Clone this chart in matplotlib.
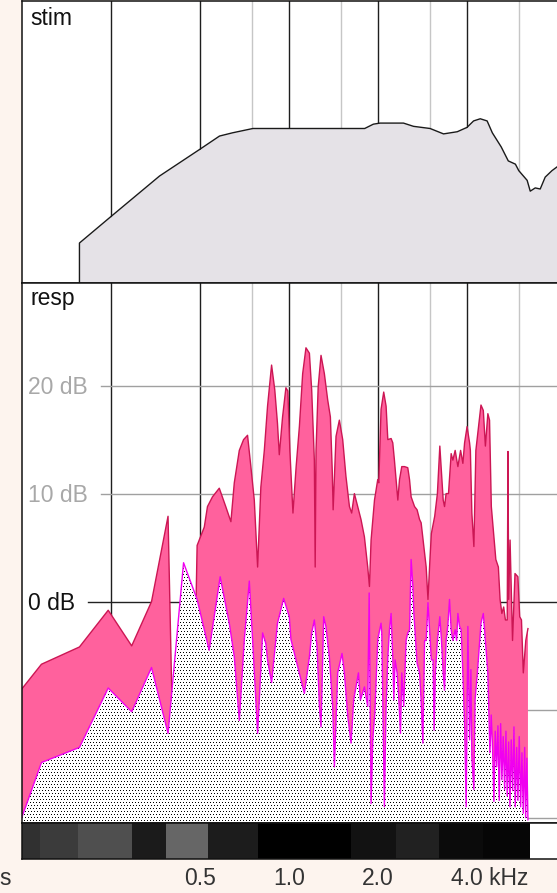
import numpy as np
import matplotlib.pyplot as plt
from matplotlib.transforms import blended_transform_factory

plt.rcParams['font.family'] = ['Liberation Sans', 'DejaVu Sans']

# stimulus spectrum envelope (kHz, dB above panel floor)
stim_khz = [0.195, 0.248, 0.364, 0.5, 0.581, 0.643, 0.754, 1.802, 1.928, 2.031,
            2.438, 2.636, 3.000, 3.332, 3.708, 4.0, 4.211, 4.436, 4.680, 4.874,
            5.222, 5.519, 5.834, 5.989, 6.394, 6.55, 6.81, 7.08, 7.36, 7.76, 8.03, 8.3]
stim_db = [3.7, 6.1, 9.9, 12.4, 13.6, 13.9, 14.3, 14.3, 14.7, 14.8,
           14.8, 14.5, 14.3, 13.8, 14.0, 14.4, 15.0, 15.2, 15.0, 13.9,
           12.6, 11.3, 11.0, 10.4, 9.5, 8.5, 8.8, 8.7, 9.8, 10.4, 10.7, 11.0]

# response spectrum (kHz, dB)
resp_khz = [0.0977, 0.145, 0.195, 0.244, 0.293, 0.342, 0.389, 0.439, 0.488,
            0.516, 0.529, 0.550, 0.580, 0.610, 0.635, 0.652, 0.678, 0.701, 0.723,
            0.742, 0.762, 0.782, 0.802, 0.824, 0.845, 0.872, 0.894, 0.913, 0.926,
            0.950, 0.975, 0.990,
            1.006, 1.030, 1.056, 1.083, 1.111, 1.140, 1.171, 1.192, 1.217, 1.225,
            1.233, 1.254, 1.282, 1.316, 1.350, 1.379, 1.399, 1.409, 1.441, 1.479,
            1.518, 1.557, 1.600, 1.628, 1.663, 1.706, 1.751, 1.798, 1.845, 1.870,
            1.894, 1.945, 1.995,
            2.011, 2.047, 2.090, 2.129, 2.158, 2.214, 2.243, 2.272, 2.302, 2.333,
            2.364, 2.406, 2.457, 2.521, 2.556, 2.588, 2.658, 2.711, 2.764, 2.798,
            2.874, 2.910, 2.951, 2.993, 3.030, 3.110, 3.176, 3.237, 3.279, 3.323,
            3.358, 3.399, 3.463, 3.536, 3.583, 3.648, 3.726, 3.806, 3.874, 3.926,
            4.003,
            4.082, 4.107, 4.155, 4.221, 4.287, 4.400, 4.461, 4.543, 4.617, 4.707,
            4.769, 4.836, 4.903, 5.009, 5.109, 5.177, 5.250, 5.325, 5.397, 5.474,
            5.506, 5.537, 5.597, 5.705, 5.816, 5.949, 6.034, 6.117, 6.205, 6.327,
            6.434]
resp_db = [-11.7, -5.8, -4.2, -0.8, -4.1, 0.0, 7.9, -60, 5.2,
           6.9, 8.8, 9.7, 10.5, 8.8, 7.4, 11.0, 14.0, 15.0, 15.4,
           12.5, 9.4, 3.2, 10.6, 14.0, 18.1, 21.9, 19.6, 16.5, 13.6,
           17.1, 19.8, 19.5,
           13.9, 8.2, 12.5, 16.2, 21.1, 23.5, 23.0, 19.6, 13.1, 3.2,
           14.0, 19.9, 22.8, 21.1, 18.7, 17.1, 12.2, 8.5, 15.3, 16.8,
           15.0, 11.6, 8.8, 8.2, 10.0, 8.8, 7.6, 6.0, 3.2, 1.4,
           5.7, 9.4, 11.3,
           11.0, 17.8, 19.4, 18.1, 15.0, 15.1, 14.7, 13.1, 11.3, 9.4,
           11.3, 12.5, 12.5, 12.4, 11.3, 9.7, 8.8, 8.5, 7.6, 7.3,
           4.5, 3.2, 0.2, 3.6, 6.3, 7.9, 10.0, 14.4, 11.9, 9.4,
           8.8, 10.0, 10.0, 13.7, 13.1, 14.0, 12.5, 14.0, 12.8, 14.7,
           16.2,
           14.7, 14.0, 8.2, 5.1, 14.0, 16.8, 18.2, 17.7, 14.4, 17.4,
           16.8, 8.8, 6.9, 3.9, 3.2, 0.2, -1.1, -0.5, -1.7, -1.7,
           13.9, 0.2, 5.7, -3.6, 2.6, 2.3, -1.4, -1.7, -6.6, -3.6,
           -2.5]

# masked floor drawn stippled under the response (kHz, dB)
floor_khz = [0.0977, 0.145, 0.195, 0.244, 0.293, 0.342, 0.389, 0.439, 0.488,
             0.536, 0.584, 0.627, 0.652, 0.678, 0.705, 0.733, 0.752, 0.782, 0.813,
             0.834, 0.845, 0.872, 0.913, 0.958, 1.001,
             1.014, 1.069, 1.126, 1.171, 1.192, 1.217, 1.243, 1.266, 1.282, 1.309,
             1.332, 1.368, 1.404, 1.423, 1.460, 1.510, 1.538, 1.579, 1.620, 1.654,
             1.716, 1.743, 1.798, 1.845, 1.866, 1.894, 1.919, 1.950, 1.995,
             2.047, 2.059, 2.075, 2.101, 2.129, 2.158, 2.186, 2.214, 2.243, 2.261,
             2.284, 2.320, 2.346, 2.382, 2.406, 2.443, 2.488, 2.521, 2.556, 2.588,
             2.624, 2.644, 2.711, 2.764, 2.798, 2.836, 2.874, 2.910, 2.951, 2.993,
             3.030, 3.071, 3.096, 3.126, 3.176, 3.237, 3.279, 3.323, 3.358, 3.399,
             3.443, 3.491, 3.536, 3.583, 3.648, 3.689, 3.726, 3.776, 3.823, 3.874,
             3.926, 3.975, 4.028,
             4.082, 4.124, 4.155, 4.221, 4.260, 4.345, 4.461, 4.543, 4.617, 4.707,
             4.783, 4.832, 4.885, 4.934, 4.985, 5.040, 5.091, 5.143, 5.200, 5.252,
             5.306, 5.364, 5.419, 5.474, 5.535, 5.591, 5.648, 5.710, 5.769, 5.827,
             5.891, 5.951, 6.012, 6.078, 6.140, 6.203, 6.271, 6.320, 6.380, 6.434]
floor_db = [-28, -14.9, -13.5, -8.0, -10.2, -6.1, -12.2, 3.6, 0.2,
            -4.5, 2.3, -2.0, -5.1, -11.0, -3.5, 1.9, -3.5, -12.2, -2.9,
            -3.9, -5.4, -7.5, -2.0, 0.3, -1.4,
            -3.5, -6.0, -8.5, -5.1, -2.9, -1.7, -4.2, -9.7, -11.6, -1.4,
            -2.3, -5.1, -9.7, -15.3, -6.6, -4.8, -6.6, -10.6, -13.1, -9.1,
            -6.6, -9.1, -7.9, -9.7, 0.8, -18.7, -12.8, -10.3, -3.5,
            -2.0, -2.9, -9.1, -19.0, -9.7, -5.1, -2.6, -1.1, -5.1, -9.1,
            -5.4, -6.6, -8.5, -12.2, -6.6, -9.7, -3.6, -2.9, -2.6, 3.9,
            1.4, -1.1, -5.7, -6.6, -9.1, -13.1, -3.6, -3.6, -0.1, -2.9,
            -5.4, -5.4, -11.9, -6.6, -3.6, -1.4, -3.6, -6.6, -8.2, -3.6,
            -2.3, 0.2, -2.6, -3.6, -2.6, -3.6, -1.1, -2.3, -2.6, -6.6,
            -11.3, -19.0, -2.3,
            -12.8, -6.3, -14.4, -17.4, -9.1, -6.3, -2.0, -1.1, -3.6, -6.6,
            -14.0, -10.5, -13.7, -18.5, -12.0, -15.3, -11.5, -18.4, -11.3, -16.5,
            -12.5, -17.4, -12.0, -18.0, -13.0, -19.0, -12.8, -17.5, -11.6, -19.0,
            -13.5, -18.4, -12.5, -19.0, -14.0, -19.6, -13.5, -20.0, -14.5, -20.2]

# band level strip under the plot
band_edges_khz = [0.1246, 0.1435, 0.193, 0.293, 0.384, 0.533, 0.782, 1.616,
                  2.296, 3.211, 4.546, 6.54, 8.3]
band_gray = [0.19, 0.23, 0.31, 0.105, 0.40, 0.11, 0.0, 0.07, 0.13, 0.045, 0.025, 1.0]

grid_major_khz = [0.25, 0.5, 1.0, 2.0, 4.0]
grid_minor_khz = [0.75, 1.5, 3.0, 6.0]
freq_label_khz = [0.5, 1.0, 2.0, 4.0]
freq_label_text = ['0.5', '1.0', '2.0', '4.0 kHz']
level_label_db = [20, 10, 0]
level_line_db = [20, 10, 0, -10, -20]

W, H = 557, 893
PAPER = '#fdf4ee'
F_LO, F_HI = 0.1246, 8.26
FS = 16.5


def px_box(left, top, right, bottom):
    return [left / W, 1 - bottom / H, (right - left) / W, (bottom - top) / H]


fig = plt.figure(figsize=(W / 100, H / 100), dpi=100, facecolor=PAPER)
ax_stim = fig.add_axes(px_box(22, 1, 560, 283))
ax_resp = fig.add_axes(px_box(22, 283, 560, 823))
ax_band = fig.add_axes(px_box(22, 823, 560, 859))

for ax in (ax_stim, ax_resp, ax_band):
    ax.set_xscale('log')
    ax.set_xlim(F_LO, F_HI)
    ax.tick_params(which='both', length=0, labelbottom=False, labelleft=False)
    ax.set_facecolor('white')
    for sp in ax.spines.values():
        sp.set_color('#111111')
        sp.set_linewidth(1.1)
        sp.set_zorder(10)

for ax in (ax_stim, ax_resp):
    for f in grid_major_khz:
        ax.axvline(f, color='#1e1e1e', lw=1.0, zorder=1)
    for f in grid_minor_khz:
        ax.axvline(f, color='#c6c6c6', lw=1.0, zorder=1)

# stim panel
ax_stim.set_ylim(0, 26.1)
ax_stim.fill_between(stim_khz, 0, stim_db, color='#e5e2e7', lw=0, zorder=2)
ax_stim.plot([stim_khz[0]] + stim_khz, [0] + stim_db, color='#1a1a1a', lw=1.0, zorder=3)
ax_stim.annotate('stim', xy=(0, 1), xycoords='axes fraction', xytext=(8, -24),
                 textcoords='offset pixels', ha='left', va='baseline',
                 fontsize=FS, color='#111111')

# resp panel
ax_resp.set_ylim(-20.5, 29.5)
for lvl in level_line_db:
    if lvl == 0:
        ax_resp.axhline(lvl, xmin=66 / 538, color='#222222', lw=1.0, zorder=1)
    else:
        ax_resp.axhline(lvl, xmin=79 / 538, color='#a0a0a0', lw=1.0, zorder=1)
for lvl in level_label_db:
    ax_resp.annotate(f'{lvl} dB', xy=(0, lvl), xycoords=('axes fraction', 'data'),
                     xytext=(6, -8.4), textcoords='offset pixels', ha='left',
                     va='baseline', fontsize=FS,
                     color='#111111' if lvl == 0 else '#a8a8a8')
ax_resp.annotate('resp', xy=(0, 1), xycoords='axes fraction', xytext=(8, -22),
                 textcoords='offset pixels', ha='left', va='baseline',
                 fontsize=FS, color='#111111')

ax_resp.fill_between(resp_khz, -80, resp_db, color='#ff619d', lw=0, zorder=2)
ax_resp.plot(resp_khz, resp_db, color='#cc1654', lw=1.0, zorder=2.5)
floor = ax_resp.fill_between(floor_khz, -80, floor_db, color='white', lw=0, zorder=3)

# stipple for the floor region, clipped to its outline
hpx, wpx = 540, 538
yy, xx = np.mgrid[0:hpx, 0:wpx]
dots = (yy % 3 == 0) & ((xx + ((yy // 3) % 2)) % 3 == 0)
stipple = np.zeros((hpx, wpx, 4))
stipple[dots, 3] = 1.0
im = ax_resp.imshow(stipple, extent=(0, 1, 0, 1), transform=ax_resp.transAxes,
                    aspect='auto', interpolation='nearest', zorder=3.2)
im.set_clip_path(floor.get_paths()[0], ax_resp.transData)
ax_resp.plot(floor_khz, floor_db, color='#f000f0', lw=1.0, zorder=3.5)
ax_resp.set_xlim(F_LO, F_HI)
ax_resp.set_ylim(-20.5, 29.5)

# band strip
ax_band.set_ylim(0, 1)
for lo, hi, g in zip(band_edges_khz[:-1], band_edges_khz[1:], band_gray):
    ax_band.axvspan(lo, hi, color=str(g), lw=0)

# frequency labels
tr = blended_transform_factory(ax_band.transData, fig.transFigure)
for f, lab in zip(freq_label_khz, freq_label_text):
    if lab.endswith('kHz'):
        ax_band.annotate(lab, xy=(f, 1 - 885 / H), xycoords=tr, xytext=(-16, 0),
                         textcoords='offset pixels', ha='left', va='baseline',
                         fontsize=FS, color='#333333', annotation_clip=False)
    else:
        ax_band.text(f, 1 - 885 / H, lab, transform=tr, ha='center', va='baseline',
                     fontsize=FS, color='#333333', clip_on=False)
fig.text(-1 / W, 1 - 885 / H, 's', ha='left', va='baseline', fontsize=FS,
         color='#333333')

fig.savefig('out.png', dpi=100, facecolor=PAPER)
